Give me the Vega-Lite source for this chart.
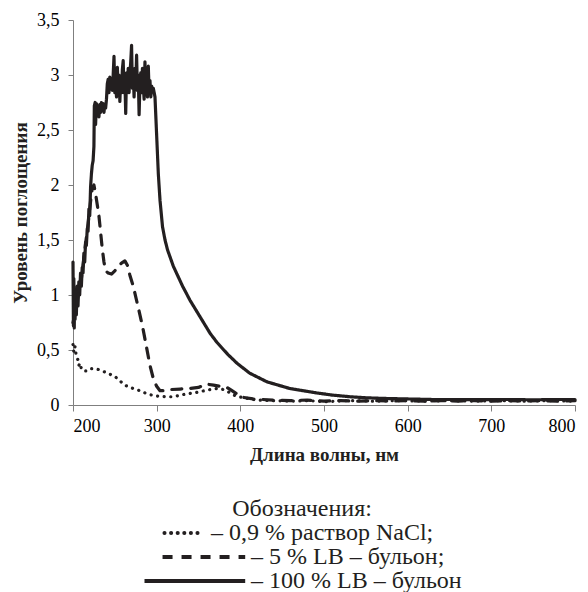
{
  "$schema": "https://vega.github.io/schema/vega-lite/v6.json",
  "width": 502,
  "height": 385,
  "autosize": {"type": "none"},
  "padding": {"left": 73, "top": 20, "right": 13, "bottom": 187},
  "background": "white",
  "config": {
    "view": {"stroke": null},
    "axis": {
      "grid": false,
      "domainColor": "#7f7f7f",
      "tickColor": "#7f7f7f",
      "labelFont": "'Liberation Serif', 'Times New Roman', 'DejaVu Serif', serif",
      "labelFontSize": 18,
      "labelColor": "#000000",
      "titleFont": "'Liberation Serif', 'Times New Roman', 'DejaVu Serif', serif",
      "titleFontSize": 19,
      "titleFontWeight": "bold",
      "titleColor": "#231f20"
    }
  },
  "data": {
    "values": [
      {"s": "S", "x": 200, "y": 1.3}, {"s": "S", "x": 200.5, "y": 0.72}, {"s": "S", "x": 201, "y": 1.15}, {"s": "S", "x": 201.5, "y": 0.7}, {"s": "S", "x": 202, "y": 1.05}, {"s": "S", "x": 202.5, "y": 0.78}, {"s": "S", "x": 203, "y": 1.0}, {"s": "S", "x": 204, "y": 0.82}, {"s": "S", "x": 205, "y": 1.08}, {"s": "S", "x": 206, "y": 0.9}, {"s": "S", "x": 207, "y": 1.12}, {"s": "S", "x": 208, "y": 1.0}, {"s": "S", "x": 209, "y": 1.2}, {"s": "S", "x": 210, "y": 1.08}, {"s": "S", "x": 211, "y": 1.25}, {"s": "S", "x": 212, "y": 1.2}, {"s": "S", "x": 213, "y": 1.38}, {"s": "S", "x": 214, "y": 1.3}, {"s": "S", "x": 215, "y": 1.48}, {"s": "S", "x": 216, "y": 1.45}, {"s": "S", "x": 217, "y": 1.6}, {"s": "S", "x": 218, "y": 1.58}, {"s": "S", "x": 219, "y": 1.78}, {"s": "S", "x": 220, "y": 1.72}, {"s": "S", "x": 221, "y": 1.98}, {"s": "S", "x": 222, "y": 2.1}, {"s": "S", "x": 223, "y": 2.18}, {"s": "S", "x": 224, "y": 2.22}, {"s": "S", "x": 225, "y": 2.35}, {"s": "S", "x": 225.5, "y": 2.72}, {"s": "S", "x": 226.5, "y": 2.75}, {"s": "S", "x": 227, "y": 2.55}, {"s": "S", "x": 228, "y": 2.74}, {"s": "S", "x": 229, "y": 2.65}, {"s": "S", "x": 230, "y": 2.72}, {"s": "S", "x": 231, "y": 2.62}, {"s": "S", "x": 232, "y": 2.73}, {"s": "S", "x": 233, "y": 2.66}, {"s": "S", "x": 234, "y": 2.75}, {"s": "S", "x": 235, "y": 2.68}, {"s": "S", "x": 236, "y": 2.74}, {"s": "S", "x": 237, "y": 2.66}, {"s": "S", "x": 238, "y": 2.73}, {"s": "S", "x": 239, "y": 2.7}, {"s": "S", "x": 240, "y": 2.78}, {"s": "S", "x": 241, "y": 2.92}, {"s": "S", "x": 242, "y": 2.96}, {"s": "S", "x": 243, "y": 2.84}, {"s": "S", "x": 244, "y": 2.98}, {"s": "S", "x": 245, "y": 2.88}, {"s": "S", "x": 246, "y": 2.96}, {"s": "S", "x": 247, "y": 2.86}, {"s": "S", "x": 248, "y": 3.0}, {"s": "S", "x": 249, "y": 3.17}, {"s": "S", "x": 250, "y": 2.84}, {"s": "S", "x": 251, "y": 2.95}, {"s": "S", "x": 252, "y": 2.8}, {"s": "S", "x": 253, "y": 3.07}, {"s": "S", "x": 254, "y": 2.88}, {"s": "S", "x": 255, "y": 3.0}, {"s": "S", "x": 256, "y": 2.76}, {"s": "S", "x": 257, "y": 2.96}, {"s": "S", "x": 258, "y": 2.84}, {"s": "S", "x": 259, "y": 3.05}, {"s": "S", "x": 260, "y": 3.13}, {"s": "S", "x": 261, "y": 2.84}, {"s": "S", "x": 262, "y": 2.96}, {"s": "S", "x": 263, "y": 2.65}, {"s": "S", "x": 264, "y": 3.02}, {"s": "S", "x": 265, "y": 2.88}, {"s": "S", "x": 266, "y": 3.06}, {"s": "S", "x": 267, "y": 2.84}, {"s": "S", "x": 268, "y": 3.0}, {"s": "S", "x": 269, "y": 3.12}, {"s": "S", "x": 270, "y": 3.27}, {"s": "S", "x": 271, "y": 2.88}, {"s": "S", "x": 272, "y": 3.02}, {"s": "S", "x": 273, "y": 2.8}, {"s": "S", "x": 274, "y": 3.06}, {"s": "S", "x": 275, "y": 2.9}, {"s": "S", "x": 276, "y": 3.18}, {"s": "S", "x": 277, "y": 2.86}, {"s": "S", "x": 278, "y": 3.0}, {"s": "S", "x": 279, "y": 2.64}, {"s": "S", "x": 280, "y": 2.92}, {"s": "S", "x": 281, "y": 3.02}, {"s": "S", "x": 282, "y": 2.84}, {"s": "S", "x": 283, "y": 3.06}, {"s": "S", "x": 284, "y": 2.9}, {"s": "S", "x": 285, "y": 2.78}, {"s": "S", "x": 286, "y": 3.12}, {"s": "S", "x": 287, "y": 2.84}, {"s": "S", "x": 288, "y": 2.96}, {"s": "S", "x": 289, "y": 2.8}, {"s": "S", "x": 290, "y": 3.08}, {"s": "S", "x": 291, "y": 2.84}, {"s": "S", "x": 292, "y": 2.95}, {"s": "S", "x": 293, "y": 2.8}, {"s": "S", "x": 294, "y": 2.9}, {"s": "S", "x": 295, "y": 2.85}, {"s": "S", "x": 296, "y": 2.88}, {"s": "S", "x": 297, "y": 2.84}, {"s": "S", "x": 298, "y": 2.8}, {"s": "S", "x": 300, "y": 2.45}, {"s": "S", "x": 302, "y": 2.1}, {"s": "S", "x": 304, "y": 1.86}, {"s": "S", "x": 307, "y": 1.62}, {"s": "S", "x": 310, "y": 1.5}, {"s": "S", "x": 313, "y": 1.41}, {"s": "S", "x": 320, "y": 1.26}, {"s": "S", "x": 331, "y": 1.08}, {"s": "S", "x": 340, "y": 0.95}, {"s": "S", "x": 352, "y": 0.8}, {"s": "S", "x": 364, "y": 0.65}, {"s": "S", "x": 372, "y": 0.57}, {"s": "S", "x": 385, "y": 0.46}, {"s": "S", "x": 396, "y": 0.38}, {"s": "S", "x": 411, "y": 0.29}, {"s": "S", "x": 432, "y": 0.21}, {"s": "S", "x": 459, "y": 0.15}, {"s": "S", "x": 491, "y": 0.11}, {"s": "S", "x": 510, "y": 0.09}, {"s": "S", "x": 531, "y": 0.075}, {"s": "S", "x": 550, "y": 0.066}, {"s": "S", "x": 570, "y": 0.06}, {"s": "S", "x": 600, "y": 0.055}, {"s": "S", "x": 630, "y": 0.05}, {"s": "S", "x": 660, "y": 0.05}, {"s": "S", "x": 690, "y": 0.048}, {"s": "S", "x": 720, "y": 0.05}, {"s": "S", "x": 750, "y": 0.047}, {"s": "S", "x": 780, "y": 0.05}, {"s": "S", "x": 800, "y": 0.05},

      {"s": "D", "x": 200, "y": 0.75}, {"s": "D", "x": 203, "y": 0.85}, {"s": "D", "x": 206, "y": 1.0}, {"s": "D", "x": 210, "y": 1.15}, {"s": "D", "x": 214, "y": 1.4}, {"s": "D", "x": 218, "y": 1.65}, {"s": "D", "x": 221, "y": 1.85}, {"s": "D", "x": 223, "y": 1.97}, {"s": "D", "x": 225, "y": 2.0}, {"s": "D", "x": 227, "y": 1.92}, {"s": "D", "x": 229, "y": 1.82}, {"s": "D", "x": 231, "y": 1.72}, {"s": "D", "x": 233, "y": 1.57}, {"s": "D", "x": 235, "y": 1.42}, {"s": "D", "x": 237, "y": 1.3}, {"s": "D", "x": 239, "y": 1.22}, {"s": "D", "x": 242, "y": 1.2}, {"s": "D", "x": 246, "y": 1.19}, {"s": "D", "x": 250, "y": 1.22}, {"s": "D", "x": 254, "y": 1.26}, {"s": "D", "x": 258, "y": 1.29}, {"s": "D", "x": 262, "y": 1.31}, {"s": "D", "x": 265, "y": 1.27}, {"s": "D", "x": 268, "y": 1.18}, {"s": "D", "x": 272, "y": 1.08}, {"s": "D", "x": 276, "y": 0.95}, {"s": "D", "x": 280, "y": 0.82}, {"s": "D", "x": 284, "y": 0.68}, {"s": "D", "x": 288, "y": 0.52}, {"s": "D", "x": 292, "y": 0.36}, {"s": "D", "x": 296, "y": 0.24}, {"s": "D", "x": 300, "y": 0.17}, {"s": "D", "x": 304, "y": 0.13}, {"s": "D", "x": 310, "y": 0.13}, {"s": "D", "x": 316, "y": 0.14}, {"s": "D", "x": 328, "y": 0.145}, {"s": "D", "x": 340, "y": 0.15}, {"s": "D", "x": 350, "y": 0.16}, {"s": "D", "x": 360, "y": 0.19}, {"s": "D", "x": 368, "y": 0.18}, {"s": "D", "x": 376, "y": 0.17}, {"s": "D", "x": 384, "y": 0.16}, {"s": "D", "x": 390, "y": 0.13}, {"s": "D", "x": 396, "y": 0.1}, {"s": "D", "x": 403, "y": 0.07}, {"s": "D", "x": 415, "y": 0.055}, {"s": "D", "x": 439, "y": 0.045}, {"s": "D", "x": 460, "y": 0.04}, {"s": "D", "x": 480, "y": 0.045}, {"s": "D", "x": 500, "y": 0.035}, {"s": "D", "x": 520, "y": 0.04}, {"s": "D", "x": 540, "y": 0.035}, {"s": "D", "x": 560, "y": 0.04}, {"s": "D", "x": 580, "y": 0.035}, {"s": "D", "x": 600, "y": 0.04}, {"s": "D", "x": 620, "y": 0.035}, {"s": "D", "x": 640, "y": 0.04}, {"s": "D", "x": 660, "y": 0.035}, {"s": "D", "x": 680, "y": 0.04}, {"s": "D", "x": 700, "y": 0.035}, {"s": "D", "x": 720, "y": 0.04}, {"s": "D", "x": 740, "y": 0.035}, {"s": "D", "x": 760, "y": 0.04}, {"s": "D", "x": 780, "y": 0.035}, {"s": "D", "x": 800, "y": 0.04},

      {"s": "N", "x": 200, "y": 0.55}, {"s": "N", "x": 201, "y": 0.48}, {"s": "N", "x": 202.4, "y": 0.53}, {"s": "N", "x": 204, "y": 0.44}, {"s": "N", "x": 206, "y": 0.41}, {"s": "N", "x": 207, "y": 0.36}, {"s": "N", "x": 208.4, "y": 0.38}, {"s": "N", "x": 210, "y": 0.33}, {"s": "N", "x": 212, "y": 0.31}, {"s": "N", "x": 216, "y": 0.31}, {"s": "N", "x": 220, "y": 0.33}, {"s": "N", "x": 226, "y": 0.33}, {"s": "N", "x": 232, "y": 0.32}, {"s": "N", "x": 238, "y": 0.3}, {"s": "N", "x": 244, "y": 0.28}, {"s": "N", "x": 250, "y": 0.26}, {"s": "N", "x": 256, "y": 0.22}, {"s": "N", "x": 262, "y": 0.18}, {"s": "N", "x": 270, "y": 0.155}, {"s": "N", "x": 278, "y": 0.135}, {"s": "N", "x": 286, "y": 0.11}, {"s": "N", "x": 294, "y": 0.09}, {"s": "N", "x": 302, "y": 0.08}, {"s": "N", "x": 310, "y": 0.075}, {"s": "N", "x": 318, "y": 0.075}, {"s": "N", "x": 326, "y": 0.085}, {"s": "N", "x": 335, "y": 0.1}, {"s": "N", "x": 345, "y": 0.11}, {"s": "N", "x": 354, "y": 0.125}, {"s": "N", "x": 364, "y": 0.14}, {"s": "N", "x": 372, "y": 0.15}, {"s": "N", "x": 380, "y": 0.14}, {"s": "N", "x": 388, "y": 0.11}, {"s": "N", "x": 395, "y": 0.08}, {"s": "N", "x": 408, "y": 0.06}, {"s": "N", "x": 420, "y": 0.045}, {"s": "N", "x": 440, "y": 0.04}, {"s": "N", "x": 460, "y": 0.035}, {"s": "N", "x": 480, "y": 0.04}, {"s": "N", "x": 500, "y": 0.03}, {"s": "N", "x": 530, "y": 0.04}, {"s": "N", "x": 560, "y": 0.035}, {"s": "N", "x": 590, "y": 0.04}, {"s": "N", "x": 620, "y": 0.035}, {"s": "N", "x": 650, "y": 0.04}, {"s": "N", "x": 680, "y": 0.035}, {"s": "N", "x": 710, "y": 0.04}, {"s": "N", "x": 740, "y": 0.035}, {"s": "N", "x": 770, "y": 0.04}, {"s": "N", "x": 800, "y": 0.035}
    ]
  },
  "mark": {"type": "line", "color": "#231f20", "strokeWidth": 3.2, "strokeCap": "round", "strokeJoin": "round"},
  "encoding": {
    "x": {
      "field": "x", "type": "quantitative",
      "scale": {"domain": [200, 800], "nice": false},
      "axis": {"values": [200, 300, 400, 500, 600, 700, 800], "title": "Длина волны, нм", "tickSize": 6, "labelPadding": 6, "titlePadding": 10}
    },
    "y": {
      "field": "y", "type": "quantitative",
      "scale": {"domain": [0, 3.5], "nice": false},
      "axis": {"values": [0, 0.5, 1, 1.5, 2, 2.5, 3, 3.5], "title": "Уровень поглощения", "tickSize": 5, "labelPadding": 9, "titlePadding": 6, "labelExpr": "replace(format(datum.value, '~g'), '.', ',')"}
    },
    "strokeDash": {
      "field": "s", "type": "nominal",
      "scale": {"domain": ["N", "D", "S"], "range": [[0.1, 6.5], [10, 9], [1, 0]]},
      "legend": {
        "orient": "none",
        "legendX": 69,
        "legendY": 477,
        "direction": "vertical",
        "title": "Обозначения:",
        "titleFont": "'Liberation Serif', 'Times New Roman', 'DejaVu Serif', serif",
        "titleFontSize": 24,
        "titleFontWeight": "normal",
        "titleColor": "#231f20",
        "titleAnchor": "middle",
        "titlePadding": 0,
        "labelFont": "'Liberation Serif', 'Times New Roman', 'DejaVu Serif', serif",
        "labelFontSize": 24,
        "labelColor": "#231f20",
        "labelLimit": 0,
        "labelExpr": "datum.value === 'N' ? '– 0,9 % раствор NaCl;' : datum.value === 'D' ? '– 5 % LB – бульон;' : '– 100 % LB – бульон'",
        "symbolType": "M-1,0H9.6",
        "symbolSize": 361,
        "symbolStrokeWidth": 4,
        "symbolStrokeColor": "#231f20",
        "symbolFillColor": "transparent",
        "rowPadding": -2,
        "labelOffset": 85,
        "encode": {
          "symbols": {
            "update": {
              "shape": {"signal": "datum.value === 'N' ? 'M1.1,0H5.1' : datum.value === 'D' ? 'M0.9,0H9.6' : 'M-1,0H9.6'"},
              "strokeDash": {"signal": "datum.value === 'N' ? [0.1, 8.4] : datum.value === 'D' ? [20, 11] : [1, 0]"},
              "strokeCap": {"signal": "datum.value === 'N' ? 'round' : 'butt'"}
            }
          },
          "labels": {
            "update": {
              "dx": {"signal": "datum.value === 'N' ? -40 : 0"}
            }
          }
        }
      }
    }
  }
}
